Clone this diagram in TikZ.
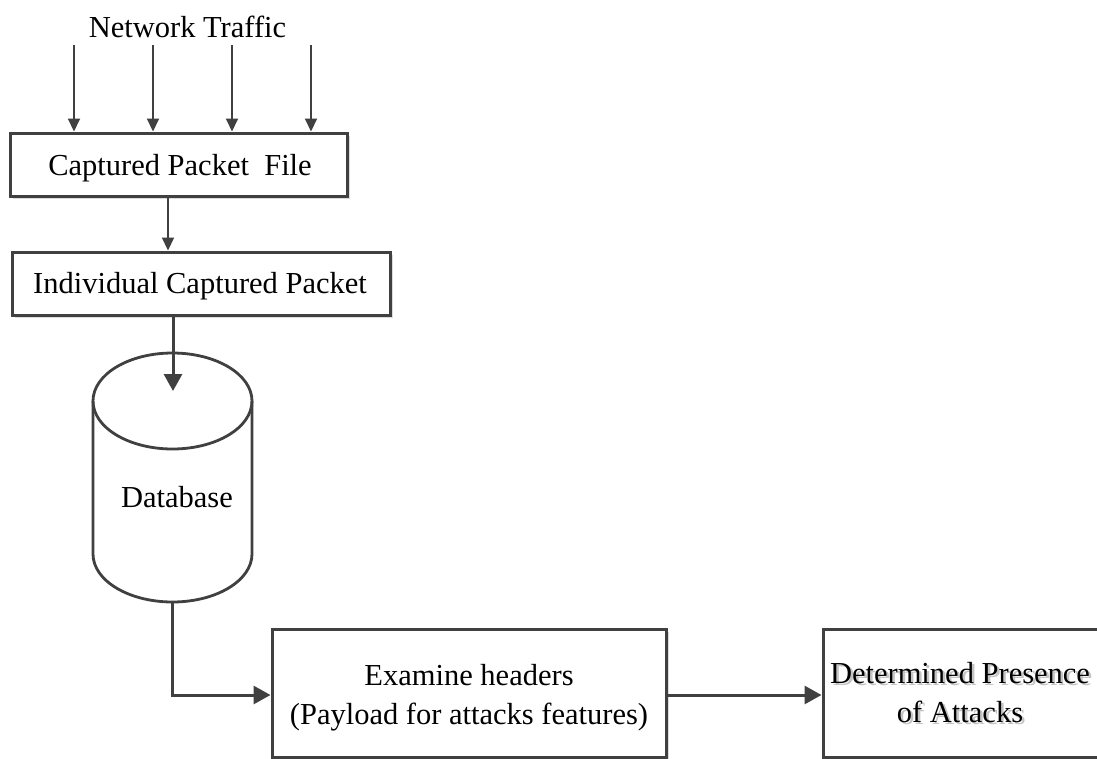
\documentclass[tikz,border=0pt]{standalone}
\usepackage{fontspec}
\setmainfont{Liberation Serif}
\usetikzlibrary{arrows.meta,shadows}
\definecolor{ink}{HTML}{404040}
\definecolor{shade}{HTML}{C4C4C4}
\tikzset{
  boxframe/.style={draw=ink, line width=3pt, rectangle, inner sep=0pt, fill=white,
    drop shadow={shadow xshift=2.5pt, shadow yshift=-2.5pt, fill=black!14, opacity=1}},
  txt/.style={inner sep=0pt, anchor=base, font=\fontsize{30.5}{39}\selectfont},
  thinflow/.style={draw=ink, line width=2pt, -{Triangle[length=13pt,width=12pt]}},
  flow/.style={draw=ink, line width=3pt, -{Triangle[length=17pt,width=18pt]}},
  cyl/.style={draw=ink, line width=2.8pt},
}
\begin{document}
\begin{tikzpicture}[x=1pt, y=-1pt]
  % page
  \useasboundingbox (0,0) rectangle (1097,758);
  \fill[white] (0,0) rectangle (1097,758);

  % incoming traffic
  \node[txt] (traffic) at (187.5,37) {Network Traffic};
  \coordinate (in1) at (74,45);
  \coordinate (in2) at (153,45);
  \coordinate (in3) at (232,45);
  \coordinate (in4) at (311,45);

  % boxes
  \node[boxframe, minimum width=337pt, minimum height=63pt] (cpf) at (178.5,164.5) {};
  \node[txt] (cpf-t) at (180,175) {Captured Packet~ File};

  \node[boxframe, minimum width=378pt, minimum height=63pt] (icp) at (201,283.5) {};
  \node[txt] (icp-t) at (200,293) {Individual Captured Packet};

  \node[boxframe, minimum width=394pt, minimum height=128pt] (exam) at (469,693) {};
  \node[txt] (exam-t1) at (469,685) {Examine headers};
  \node[txt] (exam-t2) at (469,724) {(Payload for attacks features)};

  \node[boxframe, minimum width=277pt, minimum height=128pt] (dpa) at (961.5,693) {};
  \node[txt, text=shade] (dpa-s1) at (962.5,685.5) {Determined Presence};
  \node[txt, text=shade] (dpa-s2) at (962.5,724.5) {of Attacks};
  \node[txt] (dpa-t1) at (960,683) {Determined Presence};
  \node[txt] (dpa-t2) at (960,722) {of Attacks};

  % database cylinder
  \draw[cyl, fill=white] (93,401) -- (93,554) arc[start angle=180, end angle=0, x radius=79.5, y radius=48] -- (252,401);
  \draw[cyl] (172.5,401) ellipse [x radius=79.5, y radius=48];
  \node[txt] (db) at (177,507) {Database};
  \coordinate (dbin) at (173,391);
  \coordinate (dbbot) at (172,602);

  % connectors
  \foreach \p in {in1,in2,in3,in4}
    \draw[thinflow] (\p) -- (\p |- cpf.north);
  \coordinate (c2) at (168,0);
  \draw[thinflow] (cpf.south -| c2) -- (icp.north -| c2);
  \draw[flow] (icp.south -| dbin) -- (dbin);
  \draw[flow] (dbbot) |- ([yshift=-2pt]exam.west);
  \draw[flow] ([yshift=-2pt]exam.east) -- ([yshift=-2pt]dpa.west);
\end{tikzpicture}
\end{document}
